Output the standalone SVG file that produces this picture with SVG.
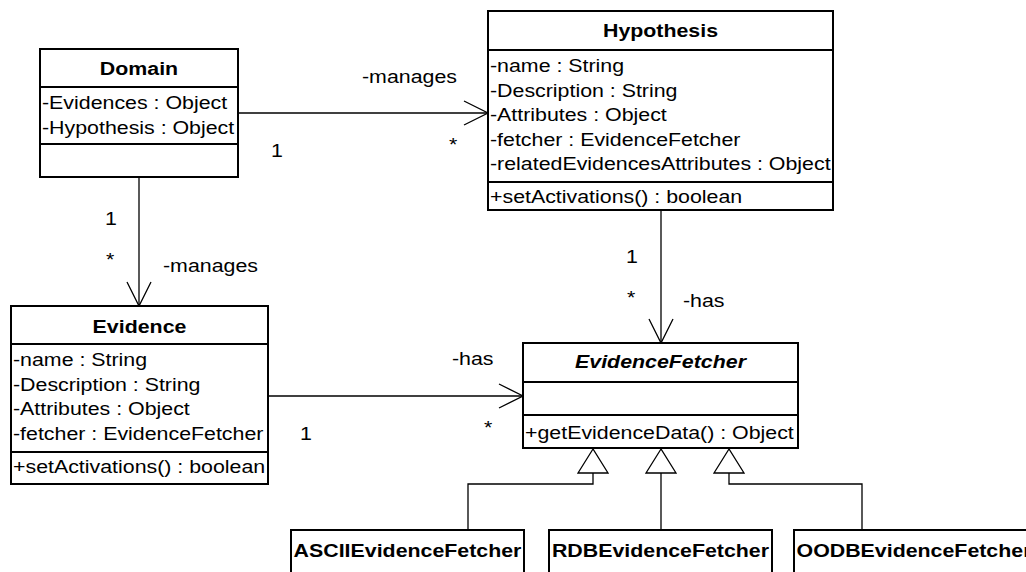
<svg xmlns="http://www.w3.org/2000/svg" width="1026" height="572" viewBox="0 0 1026 572">
  <style>
    .box { fill: #fff; stroke: #000; stroke-width: 2; }
    .sep { stroke: #000; stroke-width: 2; }
    .edge { fill: none; stroke: #000; stroke-width: 1.3; }
    .head { fill: none; stroke: #000; stroke-width: 1.3; }
    .tri { fill: #fff; stroke: #000; stroke-width: 1.3; }
    text { font-family: "Liberation Sans", Arial, sans-serif; font-size: 18.5px; fill: #000; }
    .title { font-weight: bold; text-anchor: middle; }
    .abstract { font-style: italic; }
  </style>

  <!-- associations and generalizations -->
  <g id="connectors">
    <!-- Domain -manages-> Hypothesis -->
    <line class="edge" x1="238" y1="113" x2="488" y2="113"/>
    <polyline class="head" points="464,101 488,113 464,125"/>
    <text transform="translate(362 83) scale(1.155 1)">-manages</text>
    <text transform="translate(271 157) scale(1.155 1)">1</text>
    <text transform="translate(449 151) scale(1.155 1)">*</text>

    <!-- Domain -manages-> Evidence -->
    <line class="edge" x1="139" y1="177" x2="139" y2="306"/>
    <polyline class="head" points="127,282 139,306 151,282"/>
    <text transform="translate(105 225) scale(1.155 1)">1</text>
    <text transform="translate(106 266) scale(1.155 1)">*</text>
    <text transform="translate(163 272) scale(1.155 1)">-manages</text>

    <!-- Hypothesis -has-> EvidenceFetcher -->
    <line class="edge" x1="661" y1="210" x2="661" y2="343"/>
    <polyline class="head" points="649,319 661,343 673,319"/>
    <text transform="translate(626 263) scale(1.155 1)">1</text>
    <text transform="translate(627 304) scale(1.155 1)">*</text>
    <text transform="translate(683 307) scale(1.155 1)">-has</text>

    <!-- Evidence -has-> EvidenceFetcher -->
    <line class="edge" x1="268" y1="396" x2="523" y2="396"/>
    <polyline class="head" points="499,384 523,396 499,408"/>
    <text transform="translate(452 365) scale(1.155 1)">-has</text>
    <text transform="translate(300 440) scale(1.155 1)">1</text>
    <text transform="translate(484 434) scale(1.155 1)">*</text>

    <!-- generalizations to EvidenceFetcher -->
    <polyline class="edge" points="593,473 593,484 468,484 468,530"/>
    <polyline class="edge" points="661,473 661,530"/>
    <polyline class="edge" points="729,473 729,484 862,484 862,530"/>
    <polygon class="tri" points="593,449 578,473 608,473"/>
    <polygon class="tri" points="661,449 646,473 676,473"/>
    <polygon class="tri" points="729,449 714,473 744,473"/>
  </g>

  <g id="domain">
    <rect class="box" x="40" y="49" width="198" height="128"/>
    <line class="sep" x1="40" y1="87" x2="238" y2="87"/>
    <line class="sep" x1="40" y1="144" x2="238" y2="144"/>
    <text class="title" transform="translate(139 75) scale(1.155 1)">Domain</text>
    <text transform="translate(42 109) scale(1.155 1)">-Evidences : Object</text>
    <text transform="translate(42 133.5) scale(1.155 1)">-Hypothesis : Object</text>
  </g>

  <g id="hypothesis">
    <rect class="box" x="488" y="11" width="345" height="199"/>
    <line class="sep" x1="488" y1="50" x2="833" y2="50"/>
    <line class="sep" x1="488" y1="182" x2="833" y2="182"/>
    <text class="title" transform="translate(660.5 37) scale(1.155 1)">Hypothesis</text>
    <text transform="translate(490 72) scale(1.155 1)">-name : String</text>
    <text transform="translate(490 96.5) scale(1.155 1)">-Description : String</text>
    <text transform="translate(490 121) scale(1.155 1)">-Attributes : Object</text>
    <text transform="translate(490 145.5) scale(1.155 1)">-fetcher : EvidenceFetcher</text>
    <text transform="translate(490 170) scale(1.155 1)">-relatedEvidencesAttributes : Object</text>
    <text transform="translate(490 203) scale(1.155 1)">+setActivations() : boolean</text>
  </g>

  <g id="evidence">
    <rect class="box" x="11" y="306" width="257" height="178"/>
    <line class="sep" x1="11" y1="344" x2="268" y2="344"/>
    <line class="sep" x1="11" y1="452" x2="268" y2="452"/>
    <text class="title" transform="translate(139.5 333) scale(1.155 1)">Evidence</text>
    <text transform="translate(13 366) scale(1.155 1)">-name : String</text>
    <text transform="translate(13 390.5) scale(1.155 1)">-Description : String</text>
    <text transform="translate(13 415) scale(1.155 1)">-Attributes : Object</text>
    <text transform="translate(13 439.5) scale(1.155 1)">-fetcher : EvidenceFetcher</text>
    <text transform="translate(13 473) scale(1.155 1)">+setActivations() : boolean</text>
  </g>

  <g id="evidence-fetcher">
    <rect class="box" x="523" y="343" width="275" height="105"/>
    <line class="sep" x1="523" y1="382" x2="798" y2="382"/>
    <line class="sep" x1="523" y1="415" x2="798" y2="415"/>
    <text class="title abstract" transform="translate(660.5 368) scale(1.155 1)">EvidenceFetcher</text>
    <text transform="translate(525 439) scale(1.155 1)">+getEvidenceData() : Object</text>
  </g>

  <g id="ascii-evidence-fetcher">
    <rect class="box" x="291" y="530" width="233" height="60"/>
    <text class="title" transform="translate(407.5 557) scale(1.155 1)">ASCIIEvidenceFetcher</text>
  </g>

  <g id="rdb-evidence-fetcher">
    <rect class="box" x="549" y="530" width="223" height="60"/>
    <text class="title" transform="translate(660.5 557) scale(1.155 1)">RDBEvidenceFetcher</text>
  </g>

  <g id="oodb-evidence-fetcher">
    <rect class="box" x="794" y="530" width="240" height="60"/>
    <text class="title" transform="translate(914 557) scale(1.155 1)">OODBEvidenceFetcher</text>
  </g>
</svg>
